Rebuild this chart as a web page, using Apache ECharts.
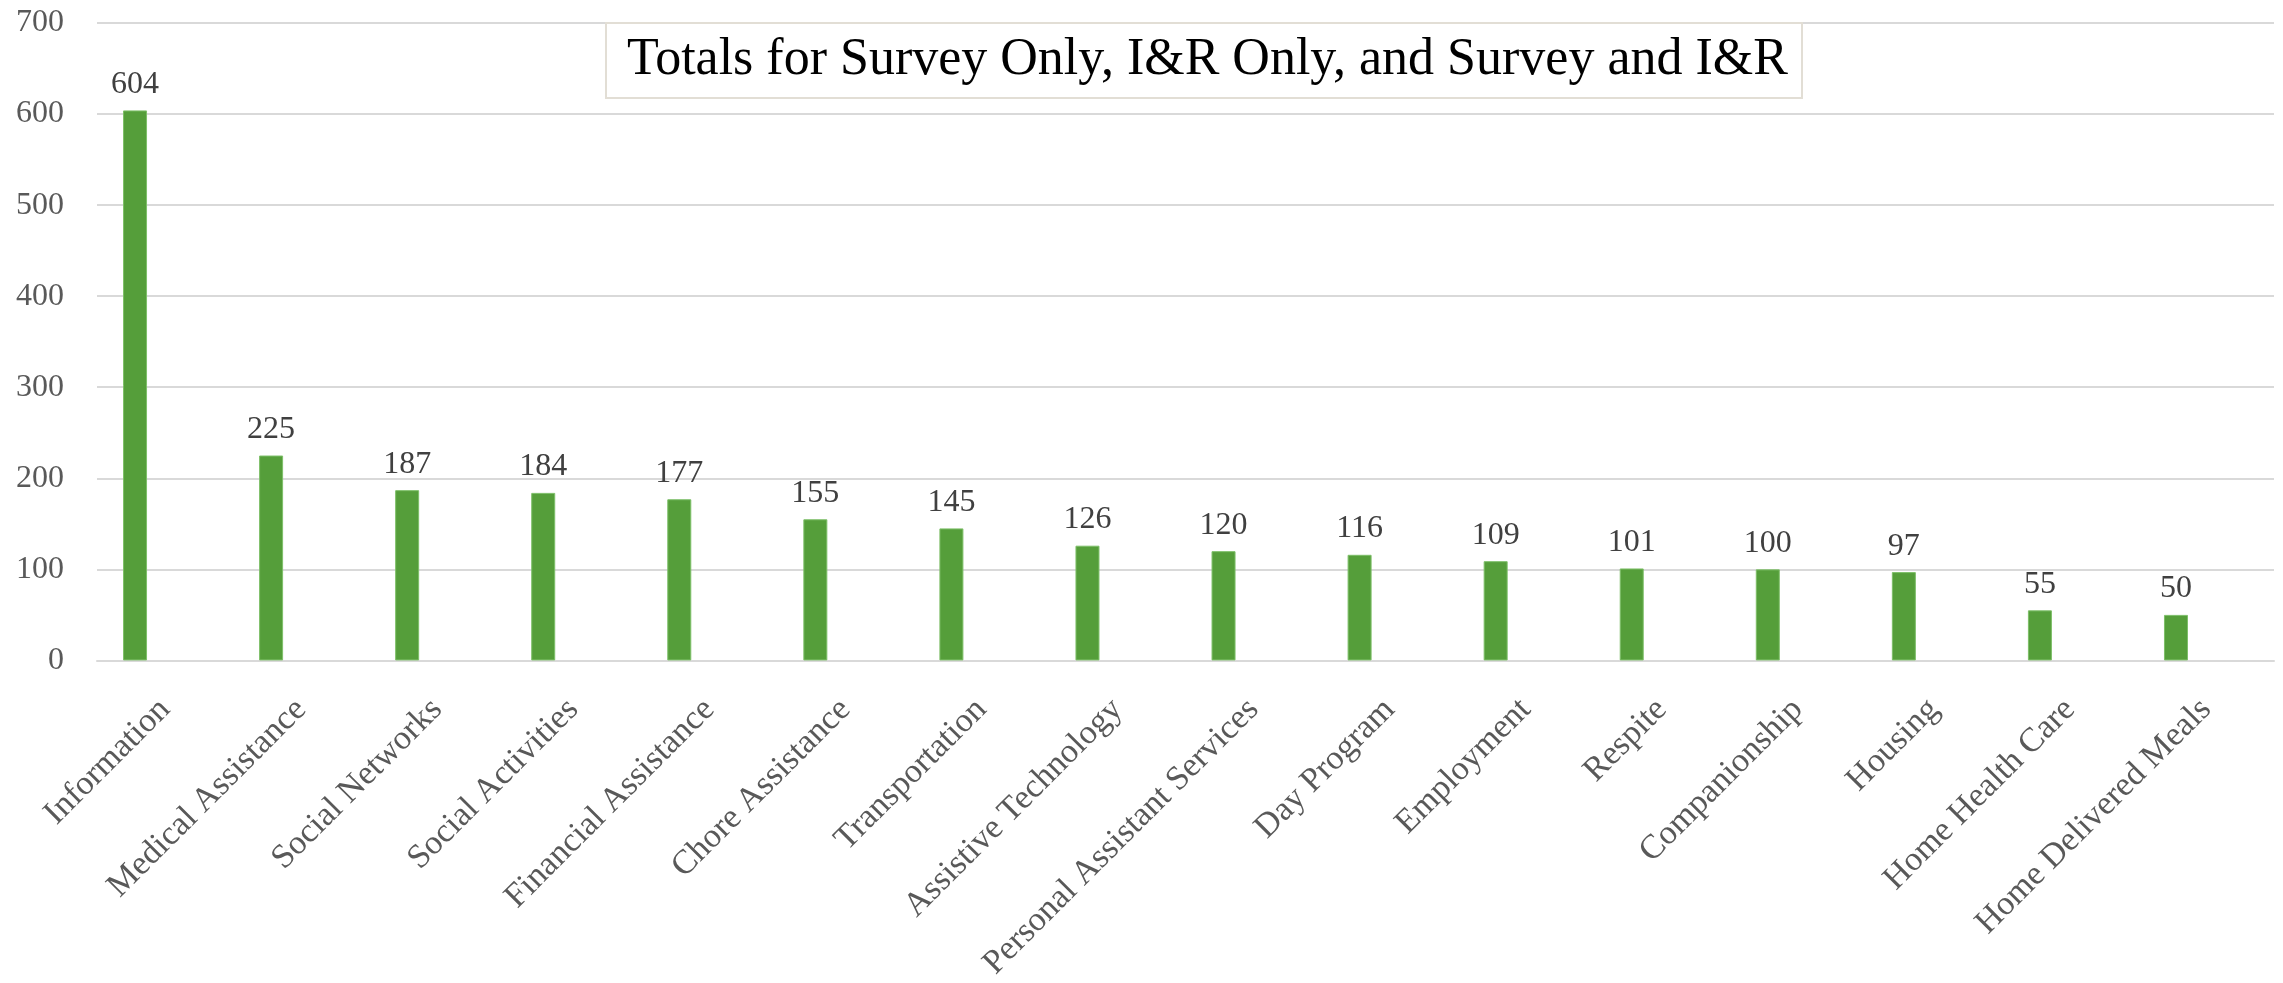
<!DOCTYPE html>
<html>
<head>
<meta charset="utf-8">
<style>
  html, body { margin: 0; padding: 0; background: #ffffff; }
  #chart { width: 2283px; height: 983px; }
</style>
<script src="https://cdn.jsdelivr.net/npm/echarts@6/dist/echarts.min.js"></script>
</head>
<body>
<div id="chart"></div>
<script>
const titleText = 'Totals for Survey Only, I&R Only, and Survey and I&R';
const categories = ['Information', 'Medical Assistance', 'Social Networks', 'Social Activities',
  'Financial Assistance', 'Chore Assistance', 'Transportation', 'Assistive Technology',
  'Personal Assistant Services', 'Day Program', 'Employment', 'Respite', 'Companionship',
  'Housing', 'Home Health Care', 'Home Delivered Meals'];
const totals = [604, 225, 187, 184, 177, 155, 145, 126, 120, 116, 109, 101, 100, 97, 55, 50];
const spacer = categories.map(() => null);
const yTicks = { min: 0, max: 700, interval: 100 };

const serif = '"Liberation Serif", "DejaVu Serif", serif';
const chart = echarts.init(document.getElementById('chart'), null, { renderer: 'canvas' });
chart.setOption({
  backgroundColor: '#ffffff',
  animation: false,
  title: {
    text: titleText,
    left: 606,
    top: 23,
    padding: [8, 14, 8, 21],
    backgroundColor: '#ffffff',
    borderColor: '#e2ded5',
    borderWidth: 2,
    textStyle: { fontFamily: serif, fontSize: 52, fontWeight: 'normal', color: '#000000', lineHeight: 59 }
  },
  grid: { left: 97, right: 9, top: 23, bottom: 317, containLabel: false },
  xAxis: {
    type: 'category',
    data: categories,
    axisLine: { show: true, lineStyle: { color: '#d9d9d9', width: 2 } },
    axisTick: { show: false },
    axisLabel: { rotate: 45, margin: 44, interval: 0, fontFamily: serif, fontSize: 34, color: '#595959' }
  },
  yAxis: {
    type: 'value',
    min: yTicks.min, max: yTicks.max, interval: yTicks.interval,
    axisLine: { show: false },
    axisTick: { show: false },
    splitLine: { lineStyle: { color: '#d9d9d9', width: 2 } },
    axisLabel: { margin: 33, fontFamily: serif, fontSize: 32, color: '#595959' }
  },
  series: [
    {
      name: 'Total',
      type: 'bar',
      data: totals,
      barWidth: 24,
      barGap: '150%',
      itemStyle: { color: '#559e3a', borderColor: '#7dbf68', borderWidth: 1 },
      label: { show: true, position: 'top', distance: 10, fontFamily: serif, fontSize: 32, color: '#404040' }
    },
    {
      name: 'spacer',
      type: 'bar',
      data: spacer,
      barWidth: 24,
      itemStyle: { color: 'transparent' },
      silent: true
    }
  ]
});
</script>
</body>
</html>
